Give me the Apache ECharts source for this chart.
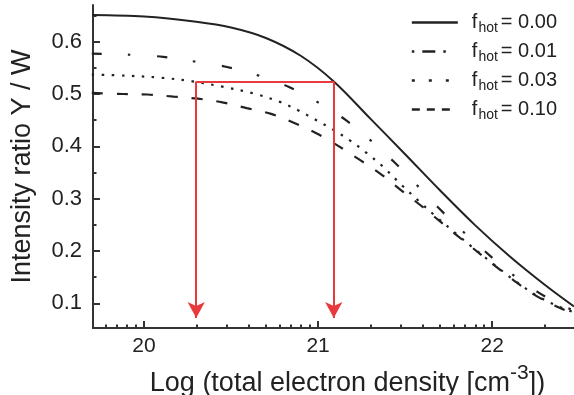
<!DOCTYPE html>
<html>
<head>
<meta charset="utf-8">
<script src="https://cdn.jsdelivr.net/npm/echarts@6/dist/echarts.min.js"></script>
<style>
html,body{margin:0;padding:0;background:#fff;}
#chart{width:574px;height:395px;}
</style>
</head>
<body>
<div id="chart"></div>
<script>
// ---- data ----
var f000X = [19.70, 20.00, 20.30, 20.50, 20.70, 20.90, 21.09, 21.30, 21.50, 21.70, 21.90, 22.10, 22.30, 22.47];
var f000Y = [0.651, 0.648, 0.638, 0.627, 0.607, 0.573, 0.524, 0.453, 0.385, 0.316, 0.250, 0.190, 0.136, 0.094];

var f001X = [19.70, 19.92, 20.11, 20.29, 20.47, 20.66, 20.83, 21.00, 21.16, 21.30, 21.44, 21.57, 21.69, 21.83, 21.95, 22.05, 22.15, 22.26, 22.37, 22.47];
var f001Y = [0.577, 0.575, 0.571, 0.562, 0.552, 0.535, 0.514, 0.484, 0.450, 0.412, 0.369, 0.325, 0.283, 0.238, 0.202, 0.173, 0.147, 0.122, 0.101, 0.086];

var f003X = [19.70, 19.90, 20.10, 20.28, 20.45, 20.63, 20.78, 20.89, 20.99, 21.09, 21.18, 21.28, 21.37, 21.48, 21.59, 21.67, 21.79, 21.88, 22.00, 22.14, 22.26, 22.39, 22.47];
var f003Y = [0.537, 0.535, 0.531, 0.524, 0.514, 0.501, 0.485, 0.468, 0.450, 0.431, 0.412, 0.387, 0.362, 0.326, 0.292, 0.268, 0.234, 0.209, 0.177, 0.141, 0.114, 0.093, 0.083];

var f010X = [19.70, 19.88, 20.02, 20.17, 20.31, 20.45, 20.59, 20.73, 20.86, 20.99, 21.12, 21.24, 21.36, 21.47, 21.59, 21.67, 21.79, 21.88, 22.00, 22.14, 22.26, 22.39, 22.47];
var f010Y = [0.502, 0.500, 0.499, 0.495, 0.491, 0.484, 0.473, 0.462, 0.445, 0.425, 0.400, 0.374, 0.347, 0.318, 0.287, 0.265, 0.232, 0.208, 0.176, 0.140, 0.113, 0.091, 0.081];

var seriesNames = ['0.00', '0.01', '0.03', '0.10'];

var arrowX = [20.30, 21.09];
var arrowTopY = 0.524;
var arrowTipY = 0.072;

var xMajorTicks = [20, 21, 22];
var xMinorTicks = [19.778, 19.845, 19.903, 19.954,
  20.301, 20.477, 20.602, 20.699, 20.778, 20.845, 20.903, 20.954,
  21.301, 21.477, 21.602, 21.699, 21.778, 21.845, 21.903, 21.954,
  22.301];
var yMajorTicks = [0.1, 0.2, 0.3, 0.4, 0.5, 0.6];
var yMinorTicks = [0.15, 0.25, 0.35, 0.45, 0.55, 0.65];

var xMin = 19.707, xMax = 22.47;
var yMin = 0.053, yMax = 0.670;

// ---- chart ----
function zip(xs, ys) { return xs.map(function (x, i) { return [x, ys[i]]; }); }

var FONT = 'Liberation Sans, Arial, Helvetica, sans-serif';
var INK = '#222';
var RED = '#e8393c';

var chart = echarts.init(document.getElementById('chart'), null, { renderer: 'canvas' });

var axisLineStyle = { color: '#333', width: 2 };
var hiddenSymbol = { opacity: 0, borderWidth: 0 };

var option = {
  animation: false,
  backgroundColor: '#fff',
  grid: { left: 93, right: 0, top: 5, bottom: 67, containLabel: false, outerBoundsMode: 'none' },
  legend: {
    orient: 'vertical',
    right: 12,
    top: 5,
    itemWidth: 46,
    itemHeight: 14,
    itemGap: 4,
    icon: 'inherit',
    selectedMode: false,
    itemStyle: hiddenSymbol,
    data: [
      { name: seriesNames[0], itemStyle: hiddenSymbol, lineStyle: { type: 'solid', width: 2.5 } },
      { name: seriesNames[1], itemStyle: hiddenSymbol, lineStyle: { type: [2.5, 8, 13, 8, 2.5, 30], width: 2.5 } },
      { name: seriesNames[2], itemStyle: hiddenSymbol, lineStyle: { type: [3, 14, 3, 14, 3, 30], width: 2.5 } },
      { name: seriesNames[3], itemStyle: hiddenSymbol, lineStyle: { type: [8, 7, 8, 7, 8, 30], width: 2.5 } }
    ],
    formatter: function (name) { return '{f|f}{s|hot}{e|= ' + name + '}'; },
    textStyle: {
      color: INK,
      fontFamily: FONT,
      rich: {
        f: { fontSize: 20, fontFamily: FONT, color: INK, padding: [0, 0, 0, 9], lineHeight: 22 },
        s: { fontSize: 14, fontFamily: FONT, color: INK, padding: [11, 3, 0, 1], lineHeight: 15 },
        e: { fontSize: 20, fontFamily: FONT, color: INK, lineHeight: 22 }
      }
    }
  },
  xAxis: [
    {
      type: 'value', min: xMin, max: xMax, position: 'bottom', offset: 0,
      axisLine: { show: true, onZero: false, lineStyle: axisLineStyle },
      axisTick: { show: true, inside: true, length: 7, customValues: xMajorTicks, lineStyle: axisLineStyle },
      axisLabel: { show: true, customValues: xMajorTicks, margin: 8, fontSize: 21, color: INK, fontFamily: FONT },
      splitLine: { show: false },
      name: '{a|Log (total electron density [cm}{b|-3}{a|])}',
      nameLocation: 'middle',
      nameGap: 35,
      nameTextStyle: {
        padding: [0, 0, 0, 28],
        rich: {
          a: { fontSize: 27, fontFamily: FONT, color: INK },
          b: { fontSize: 21, fontFamily: FONT, color: INK, padding: [0, 0, 20, 0] }
        }
      }
    },
    {
      type: 'value', min: xMin, max: xMax, position: 'bottom', offset: 0,
      axisLine: { show: false, onZero: false },
      axisTick: { show: true, inside: true, length: 3.5, customValues: xMinorTicks, lineStyle: axisLineStyle },
      axisLabel: { show: false },
      splitLine: { show: false }
    }
  ],
  yAxis: [
    {
      type: 'value', min: yMin, max: yMax, position: 'left', offset: 0,
      axisLine: { show: true, onZero: false, lineStyle: axisLineStyle },
      axisTick: { show: true, inside: true, length: 7, customValues: yMajorTicks, lineStyle: axisLineStyle },
      axisLabel: {
        show: true, customValues: yMajorTicks, margin: 11, fontSize: 22, color: INK, fontFamily: FONT,
        formatter: function (v) { return v.toFixed(1); }
      },
      splitLine: { show: false },
      name: 'Intensity ratio Y / W',
      nameLocation: 'middle',
      nameGap: 57,
      nameTextStyle: { fontSize: 27, fontFamily: FONT, color: INK }
    },
    {
      type: 'value', min: yMin, max: yMax, position: 'left', offset: 0,
      axisLine: { show: false, onZero: false },
      axisTick: { show: true, inside: true, length: 3.5, customValues: yMinorTicks, lineStyle: axisLineStyle },
      axisLabel: { show: false },
      splitLine: { show: false }
    }
  ],
  series: [
    {
      name: seriesNames[0], type: 'line', xAxisIndex: 0, yAxisIndex: 0,
      data: zip(f000X, f000Y), smooth: 0.35, showSymbol: false, symbol: 'none',
      lineStyle: { color: INK, width: 2, type: 'solid' }, itemStyle: { color: INK }
    },
    {
      name: seriesNames[1], type: 'line', xAxisIndex: 0, yAxisIndex: 0,
      data: zip(f001X, f001Y), smooth: 0.35, showSymbol: false, symbol: 'none',
      lineStyle: { color: INK, width: 2.2, type: [10, 26, 2.5, 27] }, itemStyle: { color: INK }
    },
    {
      name: seriesNames[2], type: 'line', xAxisIndex: 0, yAxisIndex: 0,
      data: zip(f003X, f003Y), smooth: 0.35, showSymbol: false, symbol: 'none',
      lineStyle: { color: INK, width: 2.2, type: [2.5, 7.5] }, itemStyle: { color: INK }
    },
    {
      name: seriesNames[3], type: 'line', xAxisIndex: 0, yAxisIndex: 0,
      data: zip(f010X, f010Y), smooth: 0.35, showSymbol: false, symbol: 'none',
      lineStyle: { color: INK, width: 2.2, type: [11, 14] }, itemStyle: { color: INK }
    },
    {
      name: 'arrows', type: 'line', xAxisIndex: 0, yAxisIndex: 0, data: [], silent: true,
      markLine: {
        silent: true,
        animation: false,
        label: { show: false },
        lineStyle: { color: RED, width: 2, type: 'solid' },
        symbolSize: [13, 16],
        data: [
          [{ coord: [arrowX[0], arrowTopY], symbol: 'none' }, { coord: [arrowX[1], arrowTopY], symbol: 'none' }],
          [{ coord: [arrowX[0], arrowTopY], symbol: 'none' }, { coord: [arrowX[0], arrowTipY], symbol: 'arrow' }],
          [{ coord: [arrowX[1], arrowTopY], symbol: 'none' }, { coord: [arrowX[1], arrowTipY], symbol: 'arrow' }]
        ]
      }
    }
  ]
};
chart.setOption(option);
</script>
</body>
</html>
